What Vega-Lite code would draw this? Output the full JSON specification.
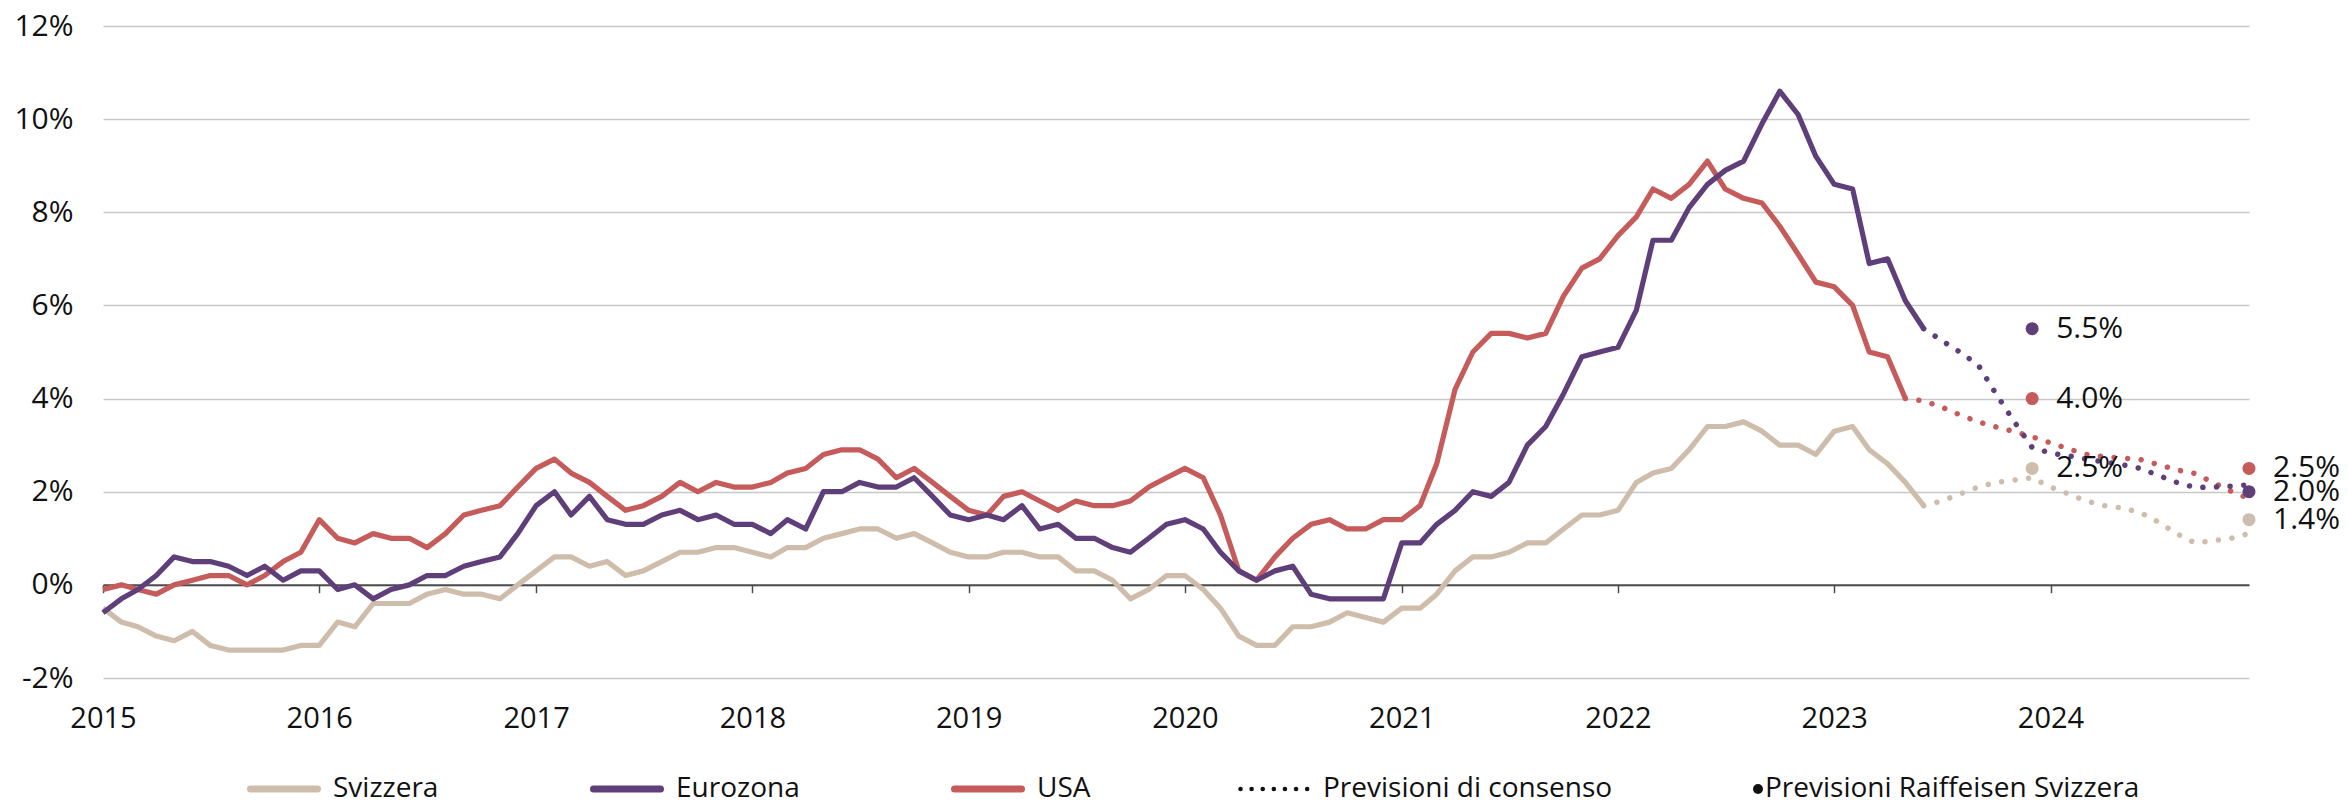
{
"$schema": "https://vega.github.io/schema/vega-lite/v6.json",
"width": 2146, "height": 652,
"autosize": {"type": "none"},
"padding": {"left": 103, "top": 26, "right": 99, "bottom": 128},
"background": "white",
"config": {"font": "Open Sans", "view": {"stroke": null}},
"datasets": {
"actual": [
{"date":"2015-01","series":"Svizzera","value":-0.5},{"date":"2015-02","series":"Svizzera","value":-0.8},{"date":"2015-03","series":"Svizzera","value":-0.9},{"date":"2015-04","series":"Svizzera","value":-1.1},{"date":"2015-05","series":"Svizzera","value":-1.2},{"date":"2015-06","series":"Svizzera","value":-1.0},{"date":"2015-07","series":"Svizzera","value":-1.3},{"date":"2015-08","series":"Svizzera","value":-1.4},{"date":"2015-09","series":"Svizzera","value":-1.4},{"date":"2015-10","series":"Svizzera","value":-1.4},{"date":"2015-11","series":"Svizzera","value":-1.4},{"date":"2015-12","series":"Svizzera","value":-1.3},
{"date":"2016-01","series":"Svizzera","value":-1.3},{"date":"2016-02","series":"Svizzera","value":-0.8},{"date":"2016-03","series":"Svizzera","value":-0.9},{"date":"2016-04","series":"Svizzera","value":-0.4},{"date":"2016-05","series":"Svizzera","value":-0.4},{"date":"2016-06","series":"Svizzera","value":-0.4},{"date":"2016-07","series":"Svizzera","value":-0.2},{"date":"2016-08","series":"Svizzera","value":-0.1},{"date":"2016-09","series":"Svizzera","value":-0.2},{"date":"2016-10","series":"Svizzera","value":-0.2},{"date":"2016-11","series":"Svizzera","value":-0.3},{"date":"2016-12","series":"Svizzera","value":0.0},
{"date":"2017-01","series":"Svizzera","value":0.3},{"date":"2017-02","series":"Svizzera","value":0.6},{"date":"2017-03","series":"Svizzera","value":0.6},{"date":"2017-04","series":"Svizzera","value":0.4},{"date":"2017-05","series":"Svizzera","value":0.5},{"date":"2017-06","series":"Svizzera","value":0.2},{"date":"2017-07","series":"Svizzera","value":0.3},{"date":"2017-08","series":"Svizzera","value":0.5},{"date":"2017-09","series":"Svizzera","value":0.7},{"date":"2017-10","series":"Svizzera","value":0.7},{"date":"2017-11","series":"Svizzera","value":0.8},{"date":"2017-12","series":"Svizzera","value":0.8},
{"date":"2018-01","series":"Svizzera","value":0.7},{"date":"2018-02","series":"Svizzera","value":0.6},{"date":"2018-03","series":"Svizzera","value":0.8},{"date":"2018-04","series":"Svizzera","value":0.8},{"date":"2018-05","series":"Svizzera","value":1.0},{"date":"2018-06","series":"Svizzera","value":1.1},{"date":"2018-07","series":"Svizzera","value":1.2},{"date":"2018-08","series":"Svizzera","value":1.2},{"date":"2018-09","series":"Svizzera","value":1.0},{"date":"2018-10","series":"Svizzera","value":1.1},{"date":"2018-11","series":"Svizzera","value":0.9},{"date":"2018-12","series":"Svizzera","value":0.7},
{"date":"2019-01","series":"Svizzera","value":0.6},{"date":"2019-02","series":"Svizzera","value":0.6},{"date":"2019-03","series":"Svizzera","value":0.7},{"date":"2019-04","series":"Svizzera","value":0.7},{"date":"2019-05","series":"Svizzera","value":0.6},{"date":"2019-06","series":"Svizzera","value":0.6},{"date":"2019-07","series":"Svizzera","value":0.3},{"date":"2019-08","series":"Svizzera","value":0.3},{"date":"2019-09","series":"Svizzera","value":0.1},{"date":"2019-10","series":"Svizzera","value":-0.3},{"date":"2019-11","series":"Svizzera","value":-0.1},{"date":"2019-12","series":"Svizzera","value":0.2},
{"date":"2020-01","series":"Svizzera","value":0.2},{"date":"2020-02","series":"Svizzera","value":-0.1},{"date":"2020-03","series":"Svizzera","value":-0.5},{"date":"2020-04","series":"Svizzera","value":-1.1},{"date":"2020-05","series":"Svizzera","value":-1.3},{"date":"2020-06","series":"Svizzera","value":-1.3},{"date":"2020-07","series":"Svizzera","value":-0.9},{"date":"2020-08","series":"Svizzera","value":-0.9},{"date":"2020-09","series":"Svizzera","value":-0.8},{"date":"2020-10","series":"Svizzera","value":-0.6},{"date":"2020-11","series":"Svizzera","value":-0.7},{"date":"2020-12","series":"Svizzera","value":-0.8},
{"date":"2021-01","series":"Svizzera","value":-0.5},{"date":"2021-02","series":"Svizzera","value":-0.5},{"date":"2021-03","series":"Svizzera","value":-0.2},{"date":"2021-04","series":"Svizzera","value":0.3},{"date":"2021-05","series":"Svizzera","value":0.6},{"date":"2021-06","series":"Svizzera","value":0.6},{"date":"2021-07","series":"Svizzera","value":0.7},{"date":"2021-08","series":"Svizzera","value":0.9},{"date":"2021-09","series":"Svizzera","value":0.9},{"date":"2021-10","series":"Svizzera","value":1.2},{"date":"2021-11","series":"Svizzera","value":1.5},{"date":"2021-12","series":"Svizzera","value":1.5},
{"date":"2022-01","series":"Svizzera","value":1.6},{"date":"2022-02","series":"Svizzera","value":2.2},{"date":"2022-03","series":"Svizzera","value":2.4},{"date":"2022-04","series":"Svizzera","value":2.5},{"date":"2022-05","series":"Svizzera","value":2.9},{"date":"2022-06","series":"Svizzera","value":3.4},{"date":"2022-07","series":"Svizzera","value":3.4},{"date":"2022-08","series":"Svizzera","value":3.5},{"date":"2022-09","series":"Svizzera","value":3.3},{"date":"2022-10","series":"Svizzera","value":3.0},{"date":"2022-11","series":"Svizzera","value":3.0},{"date":"2022-12","series":"Svizzera","value":2.8},
{"date":"2023-01","series":"Svizzera","value":3.3},{"date":"2023-02","series":"Svizzera","value":3.4},{"date":"2023-03","series":"Svizzera","value":2.9},{"date":"2023-04","series":"Svizzera","value":2.6},{"date":"2023-05","series":"Svizzera","value":2.2},{"date":"2023-06","series":"Svizzera","value":1.7},
{"date":"2015-01","series":"USA","value":-0.1},{"date":"2015-02","series":"USA","value":0.0},{"date":"2015-03","series":"USA","value":-0.1},{"date":"2015-04","series":"USA","value":-0.2},{"date":"2015-05","series":"USA","value":0.0},{"date":"2015-06","series":"USA","value":0.1},{"date":"2015-07","series":"USA","value":0.2},{"date":"2015-08","series":"USA","value":0.2},{"date":"2015-09","series":"USA","value":0.0},{"date":"2015-10","series":"USA","value":0.2},{"date":"2015-11","series":"USA","value":0.5},{"date":"2015-12","series":"USA","value":0.7},
{"date":"2016-01","series":"USA","value":1.4},{"date":"2016-02","series":"USA","value":1.0},{"date":"2016-03","series":"USA","value":0.9},{"date":"2016-04","series":"USA","value":1.1},{"date":"2016-05","series":"USA","value":1.0},{"date":"2016-06","series":"USA","value":1.0},{"date":"2016-07","series":"USA","value":0.8},{"date":"2016-08","series":"USA","value":1.1},{"date":"2016-09","series":"USA","value":1.5},{"date":"2016-10","series":"USA","value":1.6},{"date":"2016-11","series":"USA","value":1.7},{"date":"2016-12","series":"USA","value":2.1},
{"date":"2017-01","series":"USA","value":2.5},{"date":"2017-02","series":"USA","value":2.7},{"date":"2017-03","series":"USA","value":2.4},{"date":"2017-04","series":"USA","value":2.2},{"date":"2017-05","series":"USA","value":1.9},{"date":"2017-06","series":"USA","value":1.6},{"date":"2017-07","series":"USA","value":1.7},{"date":"2017-08","series":"USA","value":1.9},{"date":"2017-09","series":"USA","value":2.2},{"date":"2017-10","series":"USA","value":2.0},{"date":"2017-11","series":"USA","value":2.2},{"date":"2017-12","series":"USA","value":2.1},
{"date":"2018-01","series":"USA","value":2.1},{"date":"2018-02","series":"USA","value":2.2},{"date":"2018-03","series":"USA","value":2.4},{"date":"2018-04","series":"USA","value":2.5},{"date":"2018-05","series":"USA","value":2.8},{"date":"2018-06","series":"USA","value":2.9},{"date":"2018-07","series":"USA","value":2.9},{"date":"2018-08","series":"USA","value":2.7},{"date":"2018-09","series":"USA","value":2.3},{"date":"2018-10","series":"USA","value":2.5},{"date":"2018-11","series":"USA","value":2.2},{"date":"2018-12","series":"USA","value":1.9},
{"date":"2019-01","series":"USA","value":1.6},{"date":"2019-02","series":"USA","value":1.5},{"date":"2019-03","series":"USA","value":1.9},{"date":"2019-04","series":"USA","value":2.0},{"date":"2019-05","series":"USA","value":1.8},{"date":"2019-06","series":"USA","value":1.6},{"date":"2019-07","series":"USA","value":1.8},{"date":"2019-08","series":"USA","value":1.7},{"date":"2019-09","series":"USA","value":1.7},{"date":"2019-10","series":"USA","value":1.8},{"date":"2019-11","series":"USA","value":2.1},{"date":"2019-12","series":"USA","value":2.3},
{"date":"2020-01","series":"USA","value":2.5},{"date":"2020-02","series":"USA","value":2.3},{"date":"2020-03","series":"USA","value":1.5},{"date":"2020-04","series":"USA","value":0.3},{"date":"2020-05","series":"USA","value":0.1},{"date":"2020-06","series":"USA","value":0.6},{"date":"2020-07","series":"USA","value":1.0},{"date":"2020-08","series":"USA","value":1.3},{"date":"2020-09","series":"USA","value":1.4},{"date":"2020-10","series":"USA","value":1.2},{"date":"2020-11","series":"USA","value":1.2},{"date":"2020-12","series":"USA","value":1.4},
{"date":"2021-01","series":"USA","value":1.4},{"date":"2021-02","series":"USA","value":1.7},{"date":"2021-03","series":"USA","value":2.6},{"date":"2021-04","series":"USA","value":4.2},{"date":"2021-05","series":"USA","value":5.0},{"date":"2021-06","series":"USA","value":5.4},{"date":"2021-07","series":"USA","value":5.4},{"date":"2021-08","series":"USA","value":5.3},{"date":"2021-09","series":"USA","value":5.4},{"date":"2021-10","series":"USA","value":6.2},{"date":"2021-11","series":"USA","value":6.8},{"date":"2021-12","series":"USA","value":7.0},
{"date":"2022-01","series":"USA","value":7.5},{"date":"2022-02","series":"USA","value":7.9},{"date":"2022-03","series":"USA","value":8.5},{"date":"2022-04","series":"USA","value":8.3},{"date":"2022-05","series":"USA","value":8.6},{"date":"2022-06","series":"USA","value":9.1},{"date":"2022-07","series":"USA","value":8.5},{"date":"2022-08","series":"USA","value":8.3},{"date":"2022-09","series":"USA","value":8.2},{"date":"2022-10","series":"USA","value":7.7},{"date":"2022-11","series":"USA","value":7.1},{"date":"2022-12","series":"USA","value":6.5},
{"date":"2023-01","series":"USA","value":6.4},{"date":"2023-02","series":"USA","value":6.0},{"date":"2023-03","series":"USA","value":5.0},{"date":"2023-04","series":"USA","value":4.9},{"date":"2023-05","series":"USA","value":4.0},
{"date":"2015-01","series":"Eurozona","value":-0.6},{"date":"2015-02","series":"Eurozona","value":-0.3},{"date":"2015-03","series":"Eurozona","value":-0.1},{"date":"2015-04","series":"Eurozona","value":0.2},{"date":"2015-05","series":"Eurozona","value":0.6},{"date":"2015-06","series":"Eurozona","value":0.5},{"date":"2015-07","series":"Eurozona","value":0.5},{"date":"2015-08","series":"Eurozona","value":0.4},{"date":"2015-09","series":"Eurozona","value":0.2},{"date":"2015-10","series":"Eurozona","value":0.4},{"date":"2015-11","series":"Eurozona","value":0.1},{"date":"2015-12","series":"Eurozona","value":0.3},
{"date":"2016-01","series":"Eurozona","value":0.3},{"date":"2016-02","series":"Eurozona","value":-0.1},{"date":"2016-03","series":"Eurozona","value":0.0},{"date":"2016-04","series":"Eurozona","value":-0.3},{"date":"2016-05","series":"Eurozona","value":-0.1},{"date":"2016-06","series":"Eurozona","value":0.0},{"date":"2016-07","series":"Eurozona","value":0.2},{"date":"2016-08","series":"Eurozona","value":0.2},{"date":"2016-09","series":"Eurozona","value":0.4},{"date":"2016-10","series":"Eurozona","value":0.5},{"date":"2016-11","series":"Eurozona","value":0.6},{"date":"2016-12","series":"Eurozona","value":1.1},
{"date":"2017-01","series":"Eurozona","value":1.7},{"date":"2017-02","series":"Eurozona","value":2.0},{"date":"2017-03","series":"Eurozona","value":1.5},{"date":"2017-04","series":"Eurozona","value":1.9},{"date":"2017-05","series":"Eurozona","value":1.4},{"date":"2017-06","series":"Eurozona","value":1.3},{"date":"2017-07","series":"Eurozona","value":1.3},{"date":"2017-08","series":"Eurozona","value":1.5},{"date":"2017-09","series":"Eurozona","value":1.6},{"date":"2017-10","series":"Eurozona","value":1.4},{"date":"2017-11","series":"Eurozona","value":1.5},{"date":"2017-12","series":"Eurozona","value":1.3},
{"date":"2018-01","series":"Eurozona","value":1.3},{"date":"2018-02","series":"Eurozona","value":1.1},{"date":"2018-03","series":"Eurozona","value":1.4},{"date":"2018-04","series":"Eurozona","value":1.2},{"date":"2018-05","series":"Eurozona","value":2.0},{"date":"2018-06","series":"Eurozona","value":2.0},{"date":"2018-07","series":"Eurozona","value":2.2},{"date":"2018-08","series":"Eurozona","value":2.1},{"date":"2018-09","series":"Eurozona","value":2.1},{"date":"2018-10","series":"Eurozona","value":2.3},{"date":"2018-11","series":"Eurozona","value":1.9},{"date":"2018-12","series":"Eurozona","value":1.5},
{"date":"2019-01","series":"Eurozona","value":1.4},{"date":"2019-02","series":"Eurozona","value":1.5},{"date":"2019-03","series":"Eurozona","value":1.4},{"date":"2019-04","series":"Eurozona","value":1.7},{"date":"2019-05","series":"Eurozona","value":1.2},{"date":"2019-06","series":"Eurozona","value":1.3},{"date":"2019-07","series":"Eurozona","value":1.0},{"date":"2019-08","series":"Eurozona","value":1.0},{"date":"2019-09","series":"Eurozona","value":0.8},{"date":"2019-10","series":"Eurozona","value":0.7},{"date":"2019-11","series":"Eurozona","value":1.0},{"date":"2019-12","series":"Eurozona","value":1.3},
{"date":"2020-01","series":"Eurozona","value":1.4},{"date":"2020-02","series":"Eurozona","value":1.2},{"date":"2020-03","series":"Eurozona","value":0.7},{"date":"2020-04","series":"Eurozona","value":0.3},{"date":"2020-05","series":"Eurozona","value":0.1},{"date":"2020-06","series":"Eurozona","value":0.3},{"date":"2020-07","series":"Eurozona","value":0.4},{"date":"2020-08","series":"Eurozona","value":-0.2},{"date":"2020-09","series":"Eurozona","value":-0.3},{"date":"2020-10","series":"Eurozona","value":-0.3},{"date":"2020-11","series":"Eurozona","value":-0.3},{"date":"2020-12","series":"Eurozona","value":-0.3},
{"date":"2021-01","series":"Eurozona","value":0.9},{"date":"2021-02","series":"Eurozona","value":0.9},{"date":"2021-03","series":"Eurozona","value":1.3},{"date":"2021-04","series":"Eurozona","value":1.6},{"date":"2021-05","series":"Eurozona","value":2.0},{"date":"2021-06","series":"Eurozona","value":1.9},{"date":"2021-07","series":"Eurozona","value":2.2},{"date":"2021-08","series":"Eurozona","value":3.0},{"date":"2021-09","series":"Eurozona","value":3.4},{"date":"2021-10","series":"Eurozona","value":4.1},{"date":"2021-11","series":"Eurozona","value":4.9},{"date":"2021-12","series":"Eurozona","value":5.0},
{"date":"2022-01","series":"Eurozona","value":5.1},{"date":"2022-02","series":"Eurozona","value":5.9},{"date":"2022-03","series":"Eurozona","value":7.4},{"date":"2022-04","series":"Eurozona","value":7.4},{"date":"2022-05","series":"Eurozona","value":8.1},{"date":"2022-06","series":"Eurozona","value":8.6},{"date":"2022-07","series":"Eurozona","value":8.9},{"date":"2022-08","series":"Eurozona","value":9.1},{"date":"2022-09","series":"Eurozona","value":9.9},{"date":"2022-10","series":"Eurozona","value":10.6},{"date":"2022-11","series":"Eurozona","value":10.1},{"date":"2022-12","series":"Eurozona","value":9.2},
{"date":"2023-01","series":"Eurozona","value":8.6},{"date":"2023-02","series":"Eurozona","value":8.5},{"date":"2023-03","series":"Eurozona","value":6.9},{"date":"2023-04","series":"Eurozona","value":7.0},{"date":"2023-05","series":"Eurozona","value":6.1},{"date":"2023-06","series":"Eurozona","value":5.5}
],
"consensus": [
{"date":"2023-06","series":"Svizzera","value":1.7},{"date":"2023-07","series":"Svizzera","value":1.8},{"date":"2023-08","series":"Svizzera","value":1.95},{"date":"2023-09","series":"Svizzera","value":2.1},{"date":"2023-10","series":"Svizzera","value":2.2},{"date":"2023-11","series":"Svizzera","value":2.25},{"date":"2023-12","series":"Svizzera","value":2.3},{"date":"2024-01","series":"Svizzera","value":2.1},{"date":"2024-02","series":"Svizzera","value":1.95},{"date":"2024-03","series":"Svizzera","value":1.8},{"date":"2024-04","series":"Svizzera","value":1.7},{"date":"2024-05","series":"Svizzera","value":1.65},{"date":"2024-06","series":"Svizzera","value":1.55},{"date":"2024-07","series":"Svizzera","value":1.35},{"date":"2024-08","series":"Svizzera","value":1.1},{"date":"2024-09","series":"Svizzera","value":0.9},{"date":"2024-10","series":"Svizzera","value":0.95},{"date":"2024-11","series":"Svizzera","value":1.0},{"date":"2024-12","series":"Svizzera","value":1.1},
{"date":"2023-05","series":"USA","value":4.0},{"date":"2023-06","series":"USA","value":3.95},{"date":"2023-07","series":"USA","value":3.82},{"date":"2023-08","series":"USA","value":3.65},{"date":"2023-09","series":"USA","value":3.5},{"date":"2023-10","series":"USA","value":3.39},{"date":"2023-11","series":"USA","value":3.29},{"date":"2023-12","series":"USA","value":3.18},{"date":"2024-01","series":"USA","value":3.05},{"date":"2024-02","series":"USA","value":2.92},{"date":"2024-03","series":"USA","value":2.8},{"date":"2024-04","series":"USA","value":2.75},{"date":"2024-05","series":"USA","value":2.72},{"date":"2024-06","series":"USA","value":2.69},{"date":"2024-07","series":"USA","value":2.58},{"date":"2024-08","series":"USA","value":2.47},{"date":"2024-09","series":"USA","value":2.39},{"date":"2024-10","series":"USA","value":2.2},{"date":"2024-11","series":"USA","value":2.01},{"date":"2024-12","series":"USA","value":1.85},
{"date":"2023-06","series":"Eurozona","value":5.5},{"date":"2023-07","series":"Eurozona","value":5.25},{"date":"2023-08","series":"Eurozona","value":5.0},{"date":"2023-09","series":"Eurozona","value":4.72},{"date":"2023-10","series":"Eurozona","value":4.1},{"date":"2023-11","series":"Eurozona","value":3.5},{"date":"2023-12","series":"Eurozona","value":2.95},{"date":"2024-01","series":"Eurozona","value":2.83},{"date":"2024-02","series":"Eurozona","value":2.77},{"date":"2024-03","series":"Eurozona","value":2.7},{"date":"2024-04","series":"Eurozona","value":2.64},{"date":"2024-05","series":"Eurozona","value":2.58},{"date":"2024-06","series":"Eurozona","value":2.5},{"date":"2024-07","series":"Eurozona","value":2.35},{"date":"2024-08","series":"Eurozona","value":2.2},{"date":"2024-09","series":"Eurozona","value":2.09},{"date":"2024-10","series":"Eurozona","value":2.1},{"date":"2024-11","series":"Eurozona","value":2.12},{"date":"2024-12","series":"Eurozona","value":2.15}
]
},
"resolve": {"axis": {"x": "independent"}},
"layer": [
{
"data": {"name": "actual", "format": {"parse": {"date": "utc:'%Y-%m'"}}},
"mark": {"type": "line", "strokeWidth": 5.2, "strokeJoin": "round", "strokeCap": "butt"},
"encoding": {
"x": {"field": "date", "type": "temporal",
"scale": {"type": "utc", "nice": false, "domain": [{"year": 2015, "month": 1, "date": 1, "utc": true}, {"year": 2024, "month": 12, "date": 1, "utc": true}]},
"axis": {"orient": "bottom", "title": null, "format": "%Y", "formatType": "utc",
"values": [{"year":2015,"month":1,"date":1,"utc":true},{"year":2016,"month":1,"date":1,"utc":true},{"year":2017,"month":1,"date":1,"utc":true},{"year":2018,"month":1,"date":1,"utc":true},{"year":2019,"month":1,"date":1,"utc":true},{"year":2020,"month":1,"date":1,"utc":true},{"year":2021,"month":1,"date":1,"utc":true},{"year":2022,"month":1,"date":1,"utc":true},{"year":2023,"month":1,"date":1,"utc":true},{"year":2024,"month":1,"date":1,"utc":true}],
"domain": false, "ticks": false, "tickSize": 0, "grid": false, "labelPadding": 49, "labelBaseline": "alphabetic",
"labelFont": "Open Sans", "labelFontSize": 29, "labelColor": "#111", "labelFlush": false, "labelOverlap": false}},
"y": {"field": "value", "type": "quantitative",
"scale": {"domain": [-2, 12], "nice": false, "zero": false},
"axis": {"title": null, "values": [-2, 0, 2, 4, 6, 8, 10, 12], "labelExpr": "datum.value + '%'",
"domain": false, "ticks": false, "tickSize": 0, "labelPadding": 30, "labelFont": "Open Sans", "labelFontSize": 30, "labelColor": "#111",
"grid": true, "gridColor": "#c8c8c8", "gridWidth": 1.5}},
"color": {"field": "series", "type": "nominal",
"scale": {"domain": ["Svizzera", "Eurozona", "USA", "Previsioni di consenso", "Previsioni Raiffeisen Svizzera"],
"range": ["#cebdab", "#5f3f79", "#c65b5b", "#111111", "#111111"]},
"legend": {"orient": "none", "legendX": 144, "legendY": 749, "direction": "horizontal", "title": null, "padding": 0,
"symbolType": "stroke", "symbolSize": 4489, "symbolStrokeWidth": 7, "labelOffset": 12, "columnPadding": 140, "labelLimit": 1000,
"labelFont": "Open Sans", "labelFontSize": 28, "labelColor": "#111",
"encode": {
"symbols": {"update": {
"x": {"signal": "(datum.value === 'Previsioni Raiffeisen Svizzera' ? 5 : 37)"},
"y": {"value": 14},
"shape": {"signal": "(datum.value === 'Previsioni Raiffeisen Svizzera' ? 'circle' : 'stroke')"},
"size": {"signal": "(datum.value === 'Previsioni Raiffeisen Svizzera' ? 100 : 4489)"},
"strokeWidth": {"signal": "(datum.value === 'Previsioni Raiffeisen Svizzera' ? 0 : (datum.value === 'Previsioni di consenso' ? 4.6 : 7))"},
"strokeDash": {"signal": "(datum.value === 'Previsioni di consenso' ? [0.01, 11.1] : [1, 0])"},
"strokeCap": {"value": "round"},
"fill": {"signal": "(datum.value === 'Previsioni Raiffeisen Svizzera' ? '#111111' : 'transparent')"}
}},
"labels": {"update": {
"x": {"signal": "(datum.value === 'Previsioni Raiffeisen Svizzera' ? 12 : 86)"},
"y": {"value": 14},
"baseline": {"value": "middle"}
}}
}}}
}
},
{
"data": {"name": "consensus", "format": {"parse": {"date": "utc:'%Y-%m'"}}},
"mark": {"type": "line", "strokeWidth": 5.5, "strokeCap": "round", "strokeDash": [0.01, 13.6]},
"encoding": {
"x": {"field": "date", "type": "temporal",
"axis": {"orient": "bottom", "title": null, "labels": false, "grid": false,
"values": [{"year":2015,"month":1,"date":1,"utc":true},{"year":2016,"month":1,"date":1,"utc":true},{"year":2017,"month":1,"date":1,"utc":true},{"year":2018,"month":1,"date":1,"utc":true},{"year":2019,"month":1,"date":1,"utc":true},{"year":2020,"month":1,"date":1,"utc":true},{"year":2021,"month":1,"date":1,"utc":true},{"year":2022,"month":1,"date":1,"utc":true},{"year":2023,"month":1,"date":1,"utc":true},{"year":2024,"month":1,"date":1,"utc":true}],
"domain": true, "domainColor": "#4d4d4d", "domainWidth": 2, "ticks": true, "tickColor": "#4d4d4d", "tickWidth": 1.5, "tickSize": 8, "offset": -93.3}},
"y": {"field": "value", "type": "quantitative"},
"color": {"field": "series", "type": "nominal", "legend": null}
}
},
{
"data": {"values": [
{"date":"2023-12-01","series":"Eurozona","value":5.5,"label":"5.5%"},
{"date":"2023-12-01","series":"USA","value":4.0,"label":"4.0%"},
{"date":"2023-12-01","series":"Svizzera","value":2.5,"label":"2.5%"},
{"date":"2024-12-01","series":"USA","value":2.5,"label":"2.5%"},
{"date":"2024-12-01","series":"Eurozona","value":2.0,"label":"2.0%"},
{"date":"2024-12-01","series":"Svizzera","value":1.4,"label":"1.4%"}
]},
"encoding": {
"x": {"field": "date", "type": "temporal", "axis": null},
"y": {"field": "value", "type": "quantitative"}
},
"layer": [
{"mark": {"type": "point", "shape": "circle", "filled": true, "size": 170, "opacity": 1},
"encoding": {"color": {"field": "series", "type": "nominal", "legend": null}}},
{"mark": {"type": "text", "align": "left", "baseline": "middle", "dx": 24, "font": "Open Sans", "fontSize": 30, "fill": "#111111"},
"encoding": {"text": {"field": "label", "type": "nominal"}}}
]
}
]
}
